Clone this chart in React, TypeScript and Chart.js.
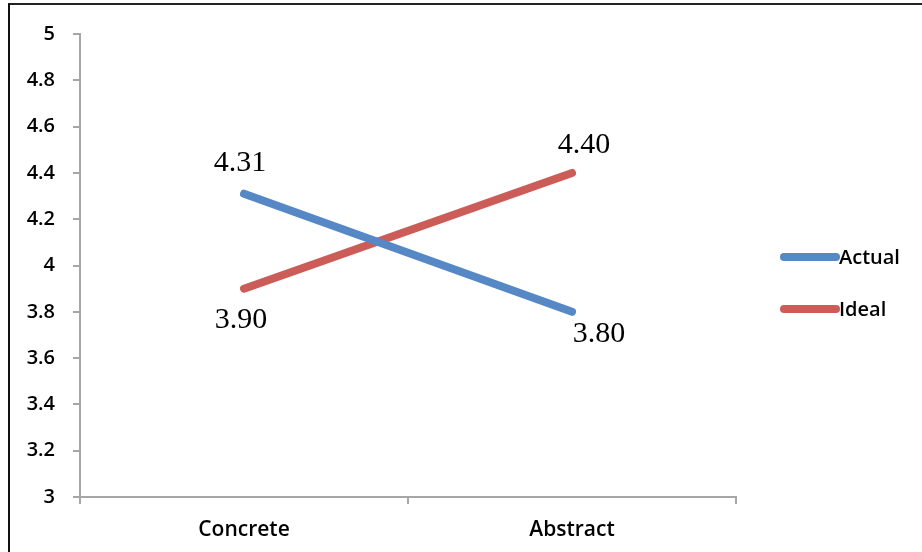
import React, { useEffect, useRef } from "react";
import { Chart, registerables } from "chart.js";

Chart.register(...registerables);

const categories = ["Concrete", "Abstract"];
const actualValues = [4.31, 3.8];
const idealValues = [3.9, 4.4];
const seriesNames = ["Actual", "Ideal"];
const seriesColors = ["#5688C5", "#CB5C57"];
const yTicks = [3, 3.2, 3.4, 3.6, 3.8, 4, 4.2, 4.4, 4.6, 4.8, 5];
// label offsets (dx, dy) per series per point
const labelOffsets = [
  [[-4, -31], [27, 22]],
  [[-3, 31], [12, -28]],
];

const SANS = "'Open Sans', Lato, sans-serif";

export default function App() {
  const ref = useRef<HTMLCanvasElement | null>(null);

  useEffect(() => {
    document.body.style.margin = "0";
    const canvas = ref.current;
    if (!canvas) return;

    const dataLabels = {
      id: "dataLabels",
      afterDatasetsDraw(chart: any) {
        const ctx = chart.ctx;
        ctx.save();
        ctx.font = "30px 'Liberation Serif', 'Times New Roman', serif";
        ctx.fillStyle = "#000";
        ctx.textAlign = "center";
        ctx.textBaseline = "middle";
        chart.data.datasets.forEach((ds: any, di: number) => {
          const meta = chart.getDatasetMeta(di);
          meta.data.forEach((pt: any, i: number) => {
            const v = ds.data[i] as number;
            const [dx, dy] = labelOffsets[di][i];
            ctx.fillText(v.toFixed(2), pt.x + dx, pt.y + dy);
          });
        });
        ctx.restore();
      },
    };

    const customLegend = {
      id: "customLegend",
      afterDraw(chart: any) {
        const ctx = chart.ctx;
        ctx.save();
        const x0 = 784;
        const x1 = 836;
        const ys = [257, 309];
        chart.data.datasets.forEach((ds: any, di: number) => {
          const y = ys[di];
          ctx.strokeStyle = ds.borderColor;
          ctx.lineWidth = 8;
          ctx.lineCap = "round";
          ctx.beginPath();
          ctx.moveTo(x0, y);
          ctx.lineTo(x1, y);
          ctx.stroke();
          ctx.fillStyle = "#000";
          ctx.font = "600 20px " + SANS;
          ctx.textAlign = "left";
          ctx.textBaseline = "middle";
          ctx.fillText(ds.label, 839, y + 1);
        });
        ctx.restore();
      },
    };

    const chart = new Chart(canvas, {
      type: "line",
      data: {
        labels: categories,
        datasets: [
          {
            label: seriesNames[0],
            data: actualValues,
            borderColor: seriesColors[0],
            backgroundColor: seriesColors[0],
            borderWidth: 8,
            borderCapStyle: "round",
            pointRadius: 0,
            tension: 0,
          },
          {
            label: seriesNames[1],
            data: idealValues,
            borderColor: seriesColors[1],
            backgroundColor: seriesColors[1],
            borderWidth: 8,
            borderCapStyle: "round",
            pointRadius: 0,
            tension: 0,
          },
        ],
      },
      options: {
        responsive: false,
        animation: false,
        devicePixelRatio: 1,
        layout: { padding: { top: 34, right: 186, left: 0, bottom: 0 } },
        plugins: {
          legend: { display: false },
          title: { display: false },
          tooltip: { enabled: false },
        },
        scales: {
          x: {
            offset: true,
            grid: {
              offset: true,
              drawOnChartArea: false,
              drawTicks: true,
              tickLength: 7,
              color: "#A6A6A6",
              lineWidth: 2,
            },
            border: { display: true, color: "#A6A6A6", width: 2 },
            ticks: {
              color: "#000",
              font: { family: SANS, size: 21, weight: 600 },
              padding: 13,
            },
            afterFit(scale: any) {
              scale.height = 55;
            },
          },
          y: {
            min: 3,
            max: 5,
            afterBuildTicks(scale: any) {
              scale.ticks = yTicks.map((v) => ({ value: v }));
            },
            grid: {
              drawOnChartArea: false,
              drawTicks: true,
              tickLength: 7,
              color: "#A6A6A6",
              lineWidth: 2,
            },
            border: { display: true, color: "#A6A6A6", width: 2 },
            ticks: {
              color: "#000",
              font: { family: SANS, size: 20, weight: 600 },
              padding: 18,
              callback: (v: any) => String(Number(v)),
            },
            afterFit(scale: any) {
              scale.width = 80;
            },
          },
        },
      },
      plugins: [dataLabels, customLegend],
    });

    return () => chart.destroy();
  }, []);

  return (
    <div style={{ position: "relative", width: 922, height: 552, overflow: "hidden", background: "#fff" }}>
      <canvas ref={ref} width={922} height={552} style={{ display: "block" }} />
      <div
        style={{
          position: "absolute",
          left: 8,
          top: 3,
          width: 930,
          height: 600,
          borderLeft: "2px solid #111",
          borderTop: "2px solid #222",
          pointerEvents: "none",
        }}
      />
    </div>
  );
}
